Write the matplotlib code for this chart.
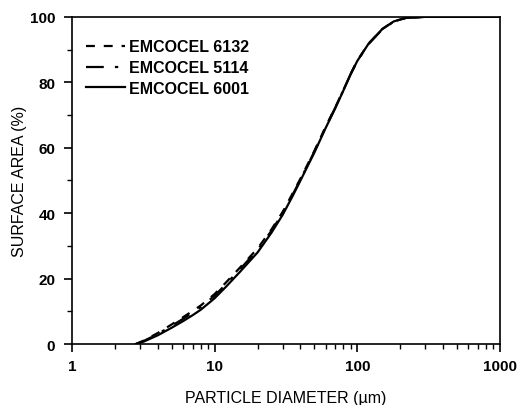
import numpy as np
import matplotlib
matplotlib.use("Agg")
import matplotlib.pyplot as plt
from matplotlib.ticker import LogLocator, FixedLocator, NullFormatter

plt.rcParams['font.family'] = ['Liberation Sans', 'DejaVu Sans']

# particle diameter (um) and cumulative surface area (%)
diam = [2.8, 3.2, 4, 5, 6, 7, 8, 10, 12, 15, 20, 25, 30, 35, 40, 50, 60, 70, 80, 90,
        100, 120, 150, 180, 220, 300, 1000]
area_6001 = [0, 0.8, 2.7, 5, 7, 8.8, 10.5, 14, 17.5, 22, 28, 34, 39.5, 45, 50, 58.5, 66, 72, 77.5, 82.5,
             86.5, 91.8, 96.3, 98.6, 99.7, 100, 100]
area_6132 = [0, 1.1, 3.4, 6, 8.2, 10.1, 11.8, 15.3, 18.8, 23.3, 29.2, 35, 40.4, 45.8, 50.6, 59, 66.4, 72.3, 77.7, 82.6,
             86.6, 91.8, 96.3, 98.6, 99.7, 100, 100]
area_5114 = [0, 1, 3.1, 5.6, 7.7, 9.6, 11.3, 14.8, 18.3, 22.8, 28.8, 34.6, 40, 45.4, 50.3, 58.8, 66.2, 72.2, 77.6, 82.6,
             86.5, 91.7, 96.2, 98.5, 99.7, 100, 100]

labels = ["EMCOCEL 6132", "EMCOCEL 5114", "EMCOCEL 6001"]
xticks = [1, 10, 100, 1000]
yticks = [0, 20, 40, 60, 80, 100]

fig = plt.figure(figsize=(5.29, 4.06), dpi=100)
ax = fig.add_axes([0.136, 0.150, 0.809, 0.806])

ax.plot(diam, area_6132, color='black', lw=1.6, linestyle=(0, (4, 4)), label=labels[0])
ax.plot(diam, area_5114, color='black', lw=1.6, linestyle=(0, (8, 5, 1.5, 5)), label=labels[1])
ax.plot(diam, area_6001, color='black', lw=1.6, linestyle='-', label=labels[2])

ax.set_xscale('log')
ax.set_xlim(1, 1000)
ax.set_ylim(0, 100)

ax.set_xticks(xticks)
ax.set_xticklabels([str(t) for t in xticks])
ax.xaxis.set_minor_locator(LogLocator(base=10, subs=np.arange(2, 10)))
ax.xaxis.set_minor_formatter(NullFormatter())
ax.set_yticks(yticks)
ax.yaxis.set_minor_locator(FixedLocator([10, 30, 50, 70, 90]))

ax.tick_params(which='major', direction='out', length=6, width=1.2, labelsize=11, pad=6)
ax.tick_params(axis='x', which='major', pad=5)
ax.tick_params(which='minor', direction='out', length=3.5, width=1.0)
for lab in ax.get_xticklabels() + ax.get_yticklabels():
    lab.set_fontweight('bold')

for sp in ax.spines.values():
    sp.set_linewidth(1.2)

ax.set_xlabel("PARTICLE DIAMETER (\u00b5m)", fontsize=11.5, labelpad=12)
ax.set_ylabel("SURFACE AREA (%)", fontsize=11.5, labelpad=2)

leg = ax.legend(loc='upper left', bbox_to_anchor=(0.0, 0.975), frameon=False,
                fontsize=11.5, handlelength=2.4, handletextpad=0.25, labelspacing=0.36)
for t in leg.get_texts():
    t.set_fontweight('bold')

fig.savefig("out.png", dpi=100)
